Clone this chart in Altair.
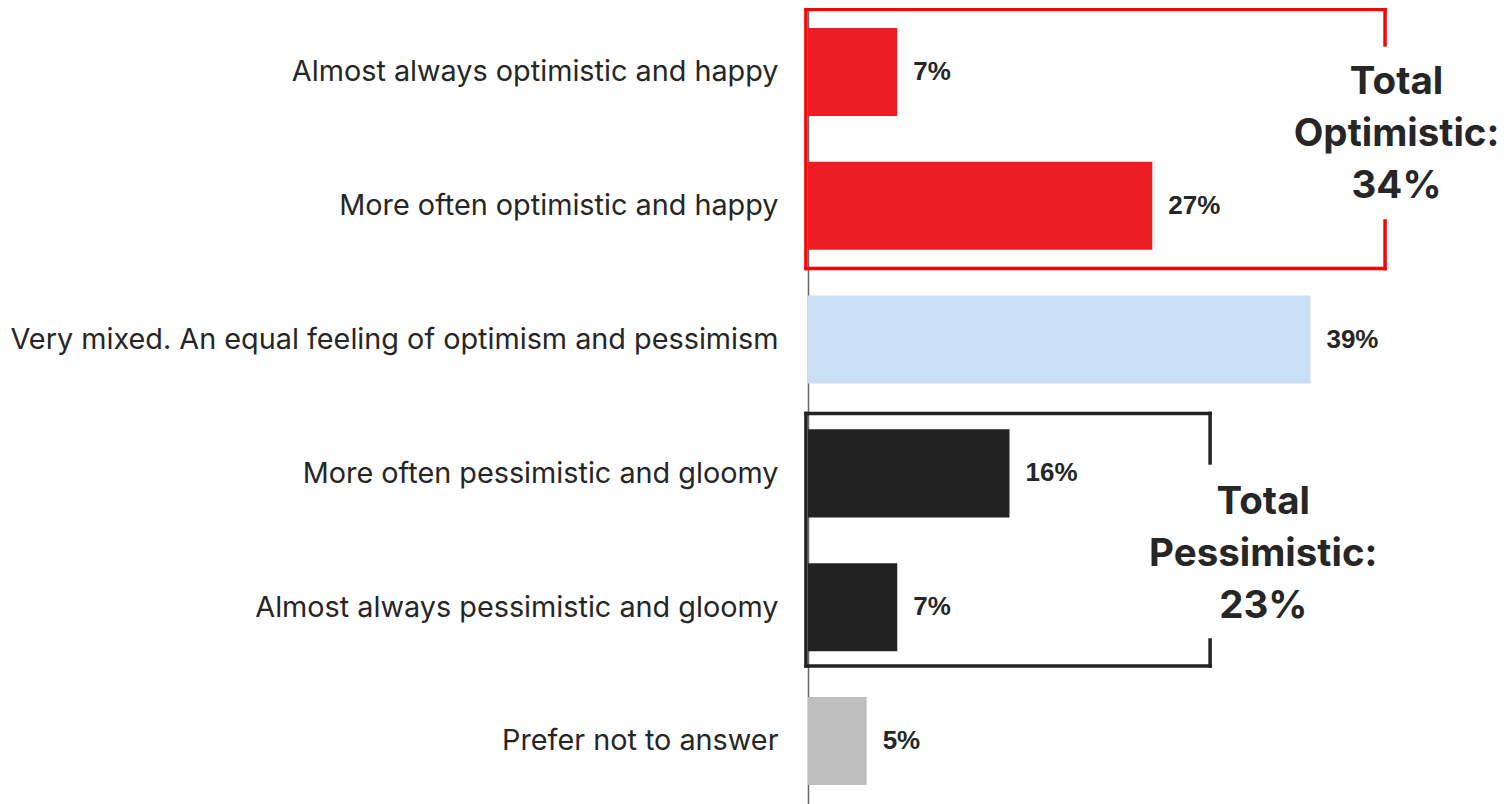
import altair as alt
import pandas as pd

categories = [
    "Almost always optimistic and happy",
    "More often optimistic and happy",
    "Very mixed. An equal feeling of optimism and pessimism",
    "More often pessimistic and gloomy",
    "Almost always pessimistic and gloomy",
    "Prefer not to answer",
]
values = [7.0, 27.0, 39.4, 15.8, 7.0, 4.6]
groups = ["opt", "opt", "mixed", "pess", "pess", "none"]
group_colors = {"opt": "#ED1D24", "mixed": "#C9E0F4", "pess": "#222222", "none": "#BFBFBF"}

totals_text = ["Total\nOptimistic:\n34%", "Total\nPessimistic:\n23%"]

bars = pd.DataFrame({
    "idx": list(range(len(categories))),
    "category": categories,
    "value": values,
    "group": groups,
})
bars["y0"] = bars["idx"] - 0.329
bars["y1"] = bars["idx"] + 0.329

# bracket segments in data units (x: percent, y: row index)
brackets = pd.DataFrame([
    # red bracket around rows 0-1
    dict(b="opt", x=-0.16, x2=45.25, y=-0.467, y2=-0.467),
    dict(b="opt", x=-0.16, x2=45.25, y=1.469, y2=1.469),
    dict(b="opt", x=-0.16, x2=-0.16, y=-0.467, y2=1.469),
    dict(b="opt", x=45.25, x2=45.25, y=-0.467, y2=-0.202),
    dict(b="opt", x=45.25, x2=45.25, y=1.114, y2=1.469),
    # black bracket around rows 3-4
    dict(b="pess", x=-0.16, x2=31.53, y=2.552, y2=2.552),
    dict(b="pess", x=-0.16, x2=31.53, y=4.439, y2=4.439),
    dict(b="pess", x=-0.16, x2=-0.16, y=2.552, y2=4.439),
    dict(b="pess", x=31.53, x2=31.53, y=2.552, y2=2.922),
    dict(b="pess", x=31.53, x2=31.53, y=4.245, y2=4.439),
])

# y is the position of the first text line
totals = pd.DataFrame({
    "b": ["opt", "pess"],
    "x": [46.15, 35.7],
    "y": [0.075, 3.214],
    "txt": totals_text,
})

label_js = "[" + ",".join("'" + c + "'" for c in categories) + "]"

yscale = alt.Scale(domain=[-0.478, 5.471], reverse=True, nice=False, zero=False)
xscale = alt.Scale(domain=[0, 54.5], nice=False, zero=False)

base = alt.Chart(bars)

bar_layer = base.mark_rect().encode(
    x=alt.X("value:Q", scale=xscale, axis=None),
    x2=alt.datum(0),
    y=alt.Y("y0:Q", scale=yscale, axis=alt.Axis(
        values=list(range(len(categories))),
        labelExpr=label_js + "[datum.value]",
        grid=False, ticks=False, tickSize=0, labelPadding=30,
        domain=True, domainColor="#666666", domainWidth=1.5,
        labelFont="Inter", labelFontSize=28.8, labelColor="#262626",
        labelLimit=0, title=None,
    )),
    y2="y1:Q",
    color=alt.Color("group:N", scale=alt.Scale(domain=list(group_colors.keys()),
                                               range=list(group_colors.values())), legend=None),
)

value_labels = base.transform_calculate(
    lbl="format(round(datum.value), 'd') + '%'"
).mark_text(align="left", baseline="middle", dx=16, font="Liberation Sans",
            fontWeight="bold", fontSize=26, color="#262626").encode(
    x=alt.X("value:Q", scale=xscale, axis=None),
    y=alt.Y("idx:Q", scale=yscale),
    text="lbl:N",
)

bracket_layer = alt.Chart(brackets).mark_rule(strokeWidth=3.5, strokeCap="square").encode(
    x=alt.X("x:Q", scale=xscale, axis=None),
    x2="x2:Q",
    y=alt.Y("y:Q", scale=yscale),
    y2="y2:Q",
    color=alt.Color("b:N", scale=alt.Scale(domain=["opt", "pess"], range=["#FF0000", "#222222"]),
                    legend=None),
)

totals_layer = alt.Chart(totals).mark_text(
    align="center", baseline="middle", lineBreak="\n", lineHeight=52,
    font="Inter", fontWeight="bold", fontSize=38.5, color="#262626",
).encode(
    x=alt.X("x:Q", scale=xscale, axis=None),
    y=alt.Y("y:Q", scale=yscale),
    text="txt:N",
)

chart = alt.layer(bar_layer, bracket_layer, value_labels, totals_layer).resolve_scale(
    color="independent"
).properties(
    width=695, height=796,
    background="white",
    autosize=alt.AutoSizeParams(type="none"),
    padding={"left": 800, "top": 0, "right": 0, "bottom": 0},
).configure_view(stroke="transparent", strokeWidth=0).configure_axis(grid=False)

chart.save("out.html", embed_options={"renderer": "svg", "actions": False})
